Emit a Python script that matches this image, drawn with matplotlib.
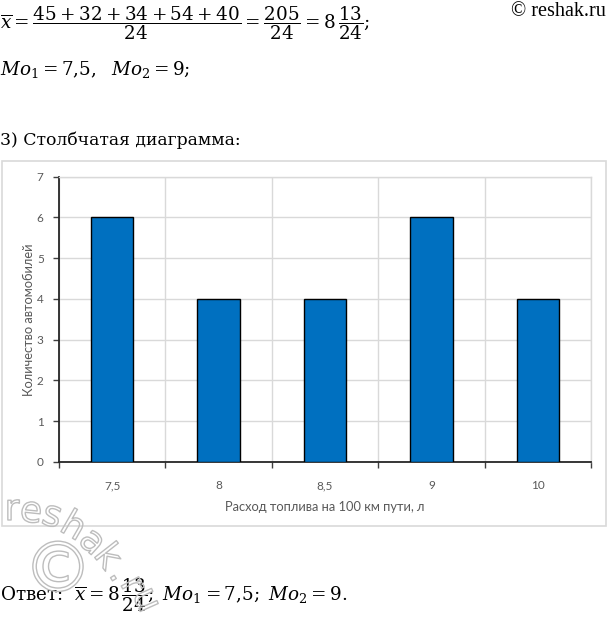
import matplotlib
matplotlib.use("Agg")
import matplotlib.pyplot as plt
import matplotlib.patheffects as pe
from matplotlib.patches import Rectangle
import numpy as np

categories = ['7,5', '8', '8,5', '9', '10']
counts = [6, 4, 4, 6, 4]
y_ticks = [0, 1, 2, 3, 4, 5, 6, 7]
x_label = 'Расход топлива на 100 км пути, л'
y_label = 'Количество автомобилей'

W, H = 608, 617
plt.rcParams['mathtext.fontset'] = 'dejavuserif'
fig = plt.figure(figsize=(W / 100, H / 100), dpi=100)
fig.patch.set_facecolor('white')


def px(x, y):
    return x / W, 1 - y / H


chart_font = ['Lato', 'Open Sans', 'DejaVu Sans']
serif = ['DejaVu Serif']
grid_c = '#d9d9d9'
txt_c = '#595959'

# chart frame
fig.patches.append(Rectangle(px(2, 526), 604 / W, 365 / H, transform=fig.transFigure,
                             fill=False, edgecolor=grid_c, lw=1.2, zorder=0))

l, b = px(59, 462)
ax = fig.add_axes([l, b, (591 - 59) / W, (462 - 176.5) / H])
x = np.arange(len(categories))
ax.bar(x, counts, width=0.4, color='#0070C0', edgecolor='black', lw=1.0, zorder=3)
ax.set_xlim(-0.5, len(categories) - 0.5)
ax.set_ylim(0, 7)
ax.set_yticks(y_ticks)
ax.set_xticks(x)
ax.set_xticklabels(categories)
ax.set_xticks(np.arange(-0.5, len(categories)), minor=True)
ax.tick_params(axis='x', which='major', length=0, pad=13, labelsize=8.5, labelcolor=txt_c)
ax.tick_params(axis='x', which='minor', length=4, width=1, color='#404040', direction='out')
ax.tick_params(axis='y', length=4, width=1, color='#404040', labelsize=8.5, labelcolor=txt_c, pad=7)
for lab in ax.get_xticklabels() + ax.get_yticklabels():
    lab.set_family(chart_font)
ax.grid(axis='y', color=grid_c, lw=1, zorder=0)
ax.grid(axis='x', which='minor', color=grid_c, lw=1, zorder=0)
ax.set_axisbelow(True)
for s in ['top', 'right']:
    ax.spines[s].set_color(grid_c)
    ax.spines[s].set_linewidth(1)
for s in ['left', 'bottom']:
    ax.spines[s].set_color('#262626')
    ax.spines[s].set_linewidth(1.3)
ax.set_xlabel(x_label, fontsize=9.3, color=txt_c, family=chart_font, labelpad=7)
ax.set_ylabel(y_label, fontsize=9.3, color=txt_c, family=chart_font, labelpad=1)

# texts above
fig.text(*px(0, 23), r'$\overline{x}=\dfrac{45+32+34+54+40}{24}=\dfrac{205}{24}=8\,\dfrac{13}{24};$',
         fontsize=13.2, va='center', ha='left')
fig.text(*px(0, 75), r'$Mo_1=7{,}5,\ \ Mo_2=9;$', fontsize=13.2, va='baseline', ha='left')
fig.text(*px(0, 145), '3) Столбчатая диаграмма:', fontsize=12.4, family=serif,
         va='baseline', ha='left')
fig.text(*px(606, 16), '© reshak.ru', fontsize=14.5, family=['Liberation Serif'], va='baseline', ha='right')
fig.text(*px(0, 601), r'Ответ:  $\overline{x}=8\,\dfrac{13}{24};\ Mo_1=7{,}5;\ Mo_2=9.$',
         fontsize=13.2, family=serif, va='baseline', ha='left')

# watermark (outline only, transparent fill)
wm_eff = [pe.Stroke(linewidth=1.0, foreground='#bdbdbd')]
clear = (1, 1, 1, 0)
letters = [('r', 12, 510, 0), ('e', 31, 512, -6), ('s', 52, 516, -16), ('h', 73, 527, -30),
           ('a', 92, 542, -42), ('k', 107, 557, -52), ('.', 120, 574, -58),
           ('r', 132, 585, -62), ('u', 146, 600, -66)]
for ch, lx, ly, rot in letters:
    fig.text(*px(lx, ly), ch, fontsize=26, color=clear, family='DejaVu Sans',
             rotation=rot, ha='center', va='center', path_effects=wm_eff, zorder=5)
fig.text(*px(58, 572), '©', fontsize=50, color=clear, family='DejaVu Sans',
         ha='center', va='center', path_effects=wm_eff, zorder=4)

fig.savefig('out.png', dpi=100)
